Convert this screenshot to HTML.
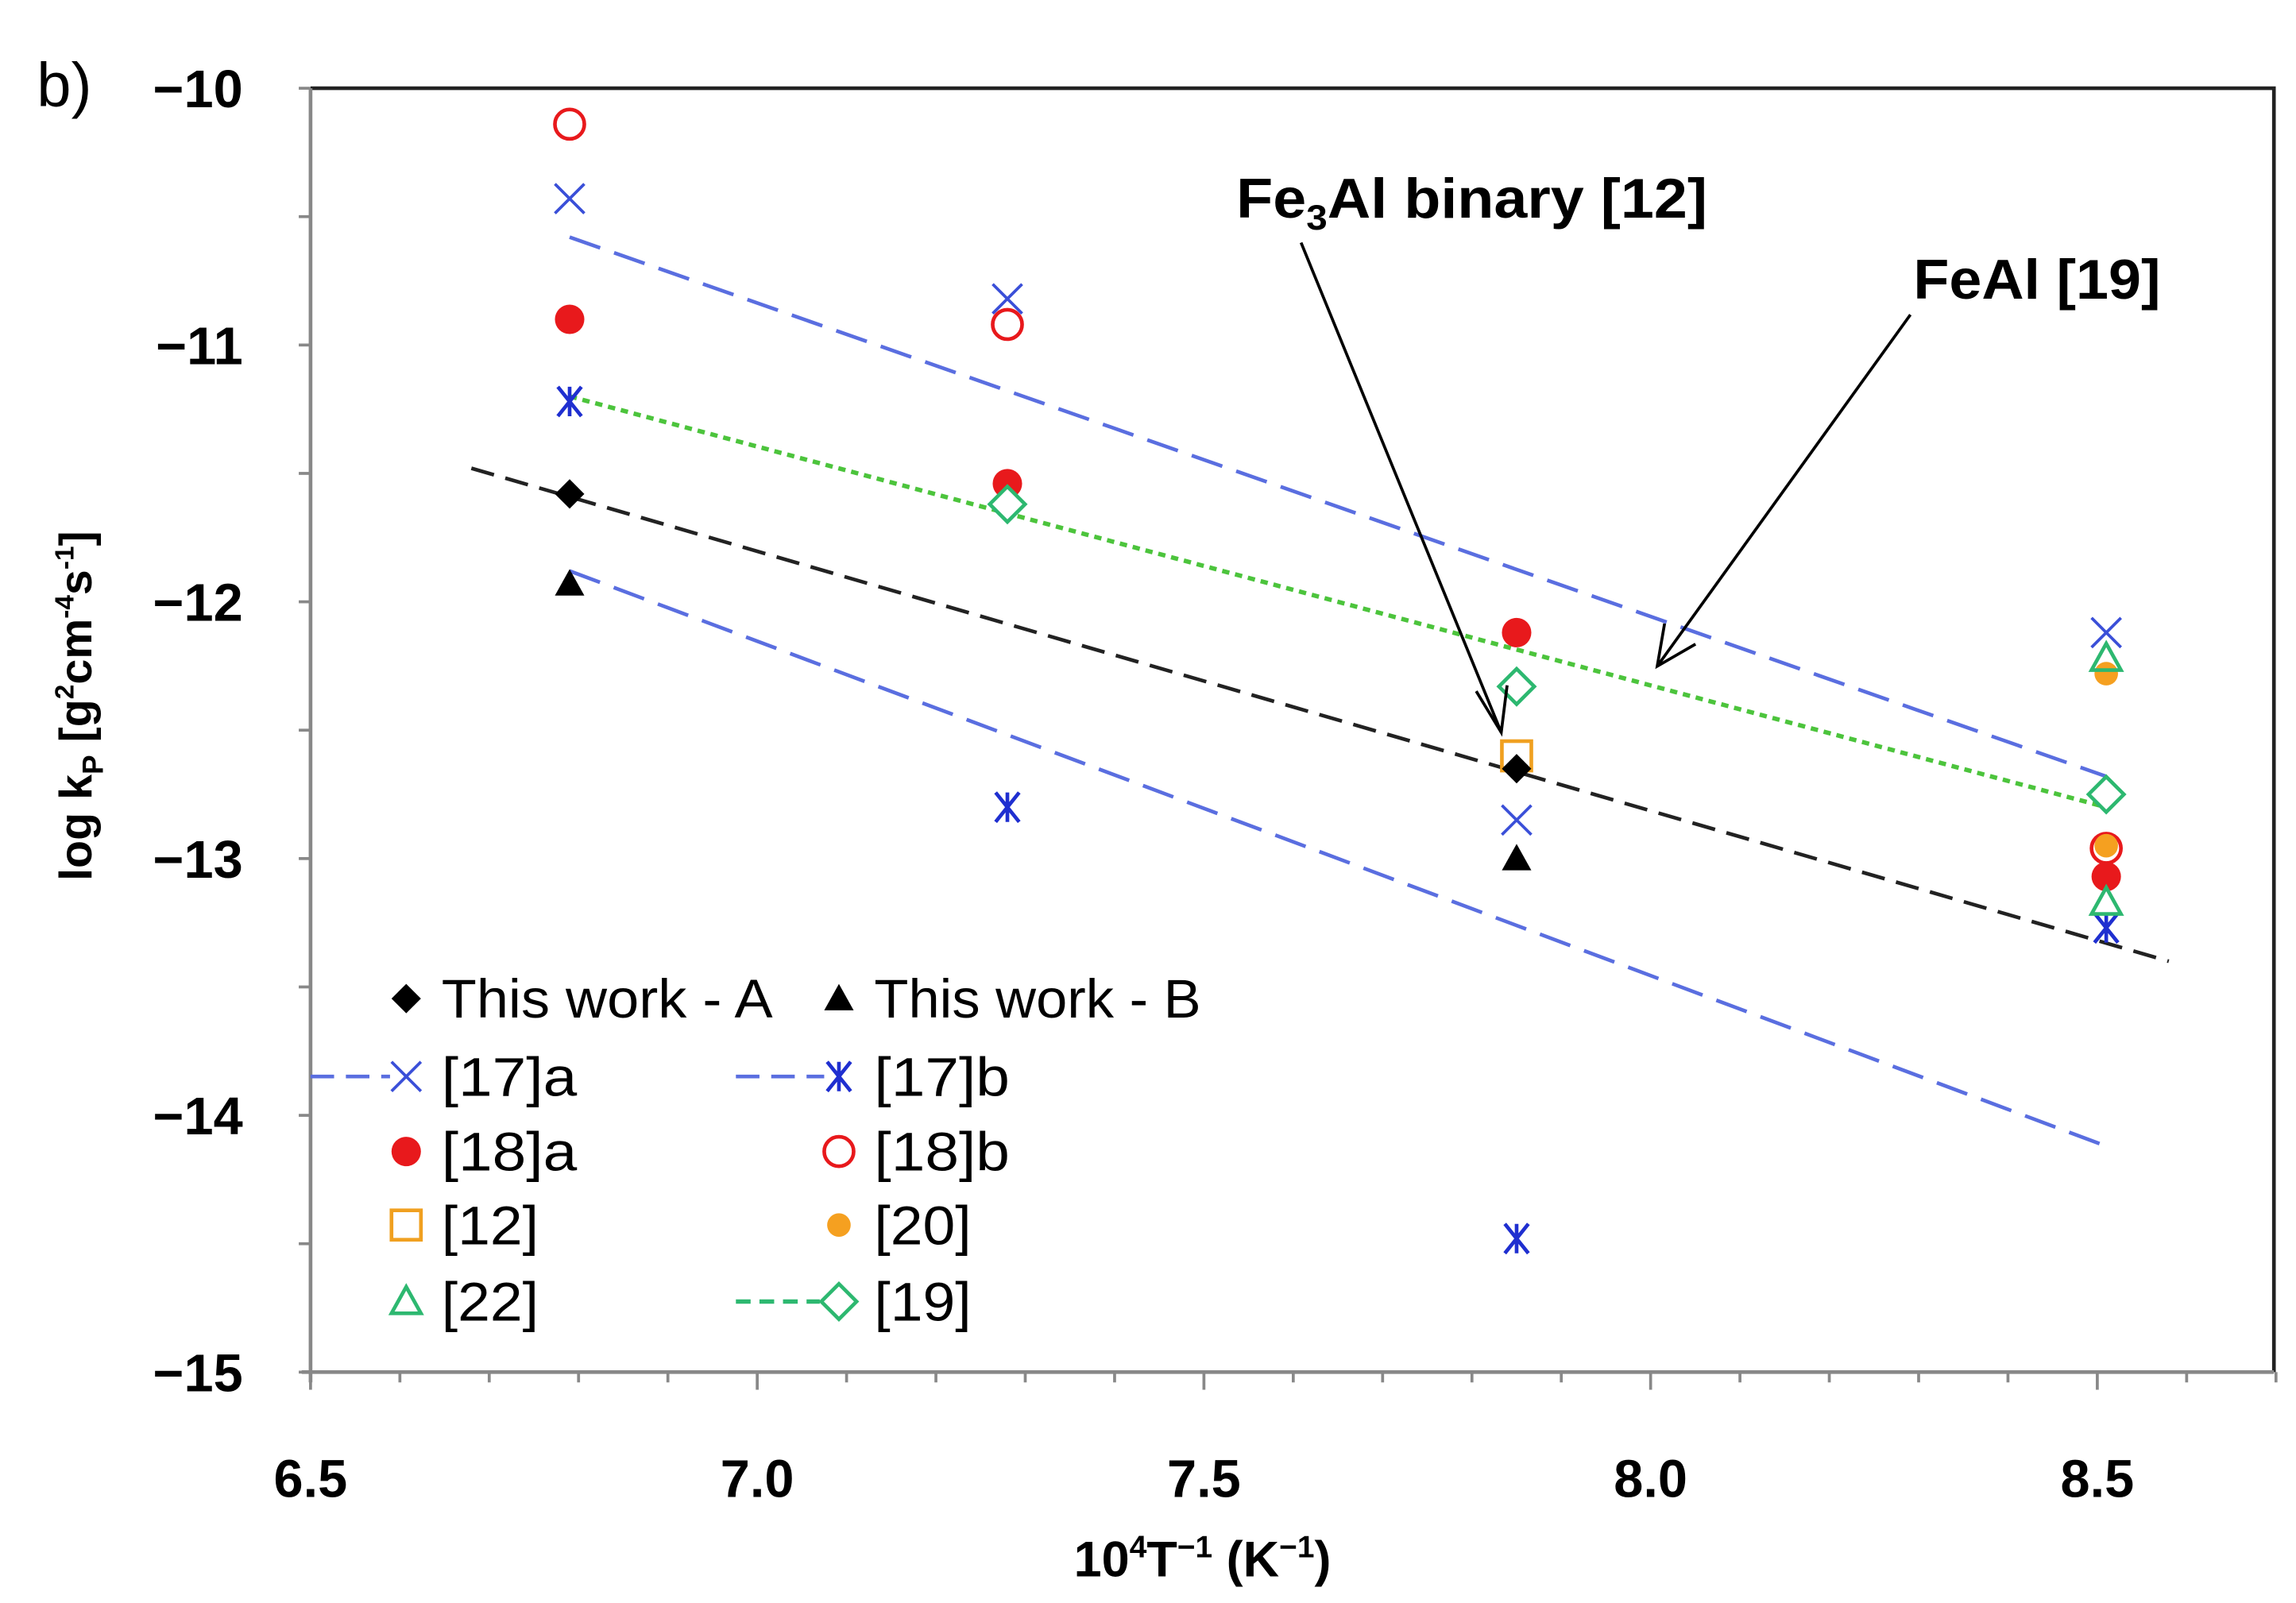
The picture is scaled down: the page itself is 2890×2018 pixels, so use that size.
<!DOCTYPE html>
<html><head><meta charset="utf-8"><style>
html,body{margin:0;padding:0;background:#fff;}
svg{display:block;font-family:"Liberation Sans",Arial,sans-serif;}
</style></head><body>
<svg id="chart" width="2890" height="2018" viewBox="0 0 1560 1090" preserveAspectRatio="none" xmlns="http://www.w3.org/2000/svg">
<rect width="1560" height="1090" fill="#fff"/>
<text x="25" y="72" font-size="42">b)</text>
<g id="axes"></g>
<g id="lines"></g>
<g id="marks"></g>
<g id="legend"></g>
<text x="840" y="148" font-size="38" font-weight="bold" textLength="320" lengthAdjust="spacingAndGlyphs">Fe<tspan font-size="24" dy="8">3</tspan><tspan dy="-8">Al binary [12]</tspan></text>
<line x1="884" y1="165" x2="1020" y2="498" stroke="#000" stroke-width="2"/>
<polyline points="1003,470 1020,498 1024,466" fill="none" stroke="#000" stroke-width="2"/>
<text x="1300" y="203" font-size="38" font-weight="bold" textLength="168" lengthAdjust="spacingAndGlyphs">FeAl [19]</text>
<line x1="1298" y1="214" x2="1126" y2="453" stroke="#000" stroke-width="2"/>
<polyline points="1131,424 1126,453 1152,438" fill="none" stroke="#000" stroke-width="2"/>
<text x="817" y="1072" font-size="34" text-anchor="middle" font-weight="bold">10<tspan font-size="21" dy="-13">4</tspan><tspan dy="13">T</tspan><tspan font-size="21" dy="-13">−1</tspan><tspan dy="13"> (K</tspan><tspan font-size="21" dy="-13">−1</tspan><tspan dy="13">)</tspan></text>
<text transform="translate(62,480) rotate(-90)" font-size="31" font-weight="bold" text-anchor="middle">log k<tspan font-size="20" dy="8">P</tspan><tspan dy="-8"> [g</tspan><tspan font-size="18" dy="-12">2</tspan><tspan dy="12">cm</tspan><tspan font-size="18" dy="-12">-4</tspan><tspan dy="12">s</tspan><tspan font-size="18" dy="-12">-1</tspan><tspan dy="12">]</tspan></text>
</svg>
<script>
const xTicks=[6.5,7.0,7.5,8.0,8.5];
const yTicks=[-10,-11,-12,-13,-14,-15];
const xA=[6.79,7.85], yA=[-11.58,-12.65];
const xB=[6.79,7.85], yB=[-11.93,-13.0];
const x17a=[6.79,7.28,7.85,8.51], y17a=[-10.43,-10.82,-12.85,-12.12];
const x17b=[6.79,7.28,7.85,8.51], y17b=[-11.22,-12.8,-14.48,-13.27];
const x18a=[6.79,7.28,7.85,8.51], y18a=[-10.9,-11.54,-12.12,-13.07];
const x18b=[6.79,7.28,8.51], y18b=[-10.14,-10.92,-12.96];
const x12=[7.85], y12=[-12.6];
const x20=[8.51,8.51], y20=[-12.28,-12.95];
const x22=[8.51,8.51], y22=[-12.22,-13.17];
const x19=[7.28,7.85,8.51], y19=[-11.62,-12.33,-12.75];
const fitX17a=[6.79,8.51], fitY17a=[-10.58,-12.68];
const fitX17b=[6.79,8.51], fitY17b=[-11.88,-14.12];
const fitX19=[6.79,8.51], fitY19=[-11.2,-12.8];
const fitXA=[6.68,8.58], fitYA=[-11.48,-13.4];

const X=v=>211+(v-6.5)*607, Y=v=>60+(-10-v)*174.6;
const NS="http://www.w3.org/2000/svg";
function mk(parent,tag,attrs){const e=document.createElementNS(NS,tag);for(const k in attrs)e.setAttribute(k,attrs[k]);document.getElementById(parent).appendChild(e);return e;}
let f=mk('axes','polyline',{points:"211,60 1545,60 1545,933",fill:"none",stroke:"#222","stroke-width":2.5});


let ax=mk('axes','line',{x1:211,y1:60,x2:211,y2:940,stroke:"#888","stroke-width":2.5});


let axx=mk('axes','line',{x1:205,y1:933,x2:1545,y2:933,stroke:"#888","stroke-width":2.5});


for(let v=-10;v>=-15;v-=0.5){mk('axes','line',{x1:203,y1:Y(v),x2:211,y2:Y(v),stroke:"#888","stroke-width":2});}
for(let i=0;i<=22;i++){const v=6.5+i*0.1;mk('axes','line',{x1:X(v),y1:933,x2:X(v),y2:i%5==0?945:940,stroke:"#888","stroke-width":2});}
yTicks.forEach(v=>{const t=mk('axes','text',{x:165,y:Y(v)+13,"font-size":36,"text-anchor":"end","font-weight":"bold"});t.textContent="−"+Math.abs(v);

});
xTicks.forEach(v=>{const t=mk('axes','text',{x:X(v),y:1018,"font-size":36,"text-anchor":"middle","font-weight":"bold"});t.textContent=v.toFixed(1);

});
function fit(xs,ys,col,dash,name,w){const l=mk('lines','line',{x1:X(xs[0]),y1:Y(ys[0]),x2:X(xs[1]),y2:Y(ys[1]),stroke:col,"stroke-width":w||2.5,"stroke-dasharray":dash});

}
fit(fitX17a,fitY17a,"#5a6ee0","22,10",'fit-line-17a');
fit(fitX17b,fitY17b,"#5a6ee0","22,10",'fit-line-17b');
fit(fitX19,fitY19,"#4cc43c","5,4",'fit-line-19',3);
fit(fitXA,fitYA,"#222","16,8",'fit-line-this-work');
function marker(g,type,cx,cy){const s=10;
if(type=='diamond')return mk(g,'polygon',{points:`${cx},${cy-s} ${cx+s},${cy} ${cx},${cy+s} ${cx-s},${cy}`,fill:"#000"});
if(type=='tri')return mk(g,'polygon',{points:`${cx},${cy-s} ${cx+s},${cy+s*0.8} ${cx-s},${cy+s*0.8}`,fill:"#000"});
if(type=='x')return mk(g,'path',{d:`M${cx-s},${cy-s}L${cx+s},${cy+s}M${cx-s},${cy+s}L${cx+s},${cy-s}`,stroke:"#3a4fd8","stroke-width":2,fill:"none"});
if(type=='ast')return mk(g,'path',{d:`M${cx-8},${cy-s}L${cx+8},${cy+s}M${cx-8},${cy+s}L${cx+8},${cy-s}M${cx},${cy-s}L${cx},${cy+s}`,stroke:"#1f2fd0","stroke-width":2.5,fill:"none"});
if(type=='dot')return mk(g,'circle',{cx,cy,r:10,fill:"#e8191c"});
if(type=='ring')return mk(g,'circle',{cx,cy,r:10,fill:"#fff",stroke:"#e8191c","stroke-width":2.5});
if(type=='sq')return mk(g,'rect',{x:cx-10,y:cy-10,width:20,height:20,fill:"none",stroke:"#f0a020","stroke-width":2.5});
if(type=='odot')return mk(g,'circle',{cx,cy,r:8,fill:"#f5a020"});
if(type=='otri')return mk(g,'polygon',{points:`${cx},${cy-s} ${cx+s},${cy+s*0.8} ${cx-s},${cy+s*0.8}`,fill:"none",stroke:"#2db870","stroke-width":2.5});
if(type=='odia')return mk(g,'polygon',{points:`${cx},${cy-12} ${cx+12},${cy} ${cx},${cy+12} ${cx-12},${cy}`,fill:"#fff",stroke:"#2db870","stroke-width":2.5});}
function series(xs,ys,type,name){xs.forEach((x,i)=>{const m=marker('marks',type,X(x),Y(ys[i]));

});}
series(x18b,y18b,'ring','point-18b');
series(x18a,y18a,'dot','point-18a');
series(x17a,y17a,'x','point-17a');
series(x17b,y17b,'ast','point-17b');
series(x12,y12,'sq','point-12');
series(x20,y20,'odot','point-20');
series(x22,y22,'otri','point-22');
series(x19,y19,'odia','point-19');
series(xA,yA,'diamond','point-this-work-a');
series(xB,yB,'tri','point-this-work-b');
const leg=[[276,679,'diamond','This work - A',225],[570,679,'tri','This work - B',222],[276,732,'x','[17]a',92],[570,732,'ast','[17]b',92],[276,783,'dot','[18]a',92],[570,783,'ring','[18]b',92],[276,833,'sq','[12]',66],[570,833,'odot','[20]',66],[276,885,'otri','[22]',66],[570,885,'odia','[19]',66]];
mk('legend','line',{x1:211,y1:732,x2:265,y2:732,stroke:"#5a6ee0","stroke-width":2.5,"stroke-dasharray":"16,8"});
mk('legend','line',{x1:500,y1:732,x2:560,y2:732,stroke:"#5a6ee0","stroke-width":2.5,"stroke-dasharray":"16,8"});
mk('legend','line',{x1:500,y1:885,x2:557,y2:885,stroke:"#2db870","stroke-width":3,"stroke-dasharray":"10,6"});
leg.forEach(l=>{const m=marker('legend',l[2],l[0],l[1]);


const t=mk('legend','text',{x:l[0]+24,y:l[1]+13,"font-size":37,textLength:l[4],lengthAdjust:"spacingAndGlyphs"});t.textContent=l[3];

});
</script>
</body></html>
